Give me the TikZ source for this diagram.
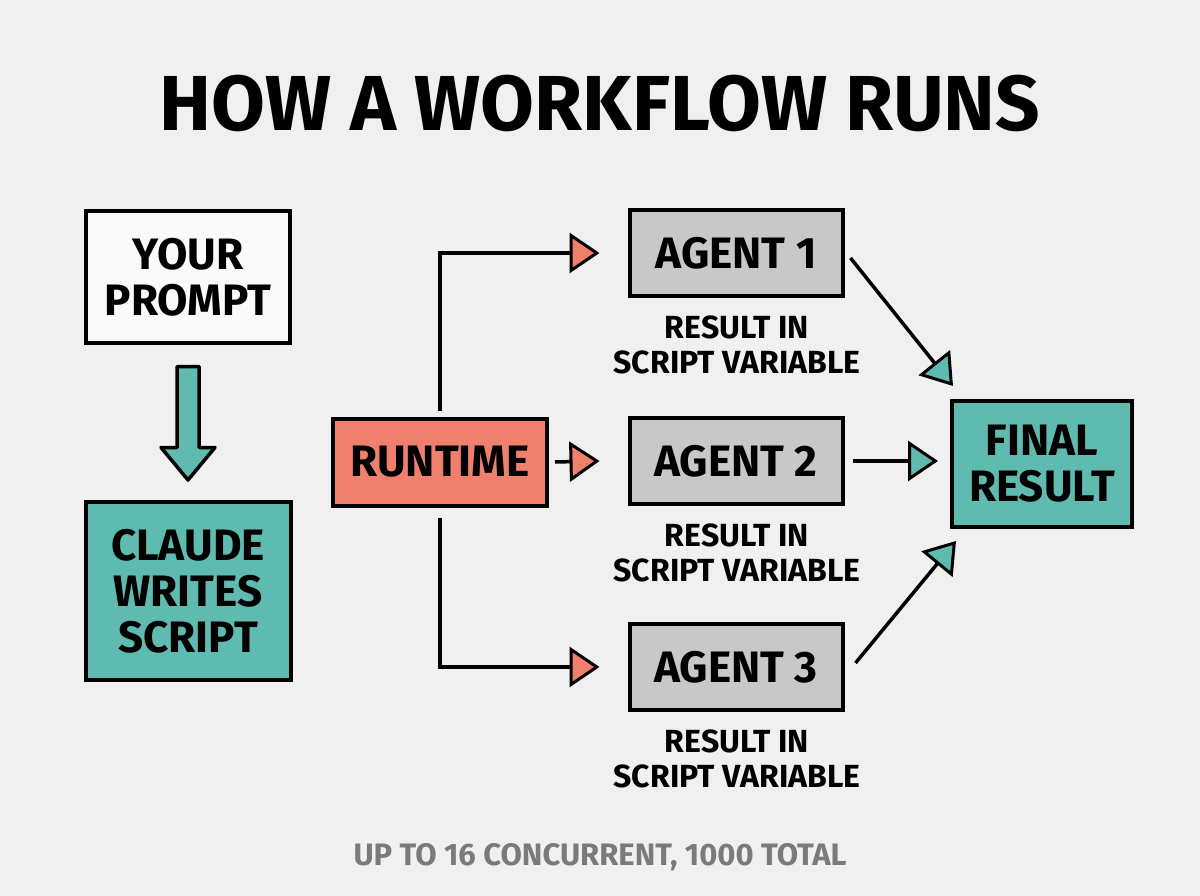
\documentclass[tikz,border=0pt]{standalone}
\usepackage{fontspec}
\setmainfont{Fira Sans}
\usetikzlibrary{arrows.meta,calc}
\definecolor{bg}{RGB}{240,240,240}
\definecolor{teal}{RGB}{95,187,176}
\definecolor{salmon}{RGB}{240,128,110}
\definecolor{agentgray}{RGB}{200,200,200}
\definecolor{boxwhite}{RGB}{250,250,250}
\definecolor{footgray}{RGB}{122,122,122}
\tikzset{
  box/.style={draw=black,line width=4pt,inner sep=0pt,align=center,
    font=\bfseries\fontsize{44}{46}\selectfont},
  agent/.style={box,fill=agentgray,minimum width=213pt,minimum height=86pt},
  note/.style={align=center,font=\bfseries\fontsize{32}{35}\selectfont},
  redarrow/.style={line width=3.5pt,-{Triangle[length=30pt,width=40pt,fill=salmon,line width=3pt]}},
  tealarrow/.style={line width=3.5pt,-{Triangle[length=30pt,width=40pt,fill=teal,line width=3pt]}},
}
\begin{document}
\begin{tikzpicture}[x=1pt,y=-1pt]
\fill[bg] (0,0) rectangle (1200,896);
\useasboundingbox (0,0) rectangle (1200,896);
\node[font=\bfseries\fontsize{78}{80}\selectfont] (title) at (600,103) {HOW A WORKFLOW RUNS};

\node[box,fill=boxwhite,minimum width=204pt,minimum height=131pt] (prompt) at (188,277) {YOUR\\PROMPT};
\node[box,fill=teal,minimum width=205pt,minimum height=178pt] (claude) at (188,591) {CLAUDE\\WRITES\\SCRIPT};
\node[box,fill=salmon,minimum width=214pt,minimum height=87pt] (runtime) at (440,462) {RUNTIME};
\node[agent] (a1) at (736,253) {AGENT 1};
\node[agent] (a2) at (736,461) {AGENT 2};
\node[agent] (a3) at (736,667) {AGENT 3};
\node[note] (n1) at (737,345) {RESULT IN\\SCRIPT VARIABLE};
\node[note] (n2) at (737,553) {RESULT IN\\SCRIPT VARIABLE};
\node[note] (n3) at (737,759) {RESULT IN\\SCRIPT VARIABLE};
\node[box,fill=teal,minimum width=180pt,minimum height=126pt] (final) at (1042,464) {FINAL\\RESULT};
\node[font=\bfseries\fontsize{31}{33}\selectfont,text=footgray] (foot) at (600,857) {UP TO 16 CONCURRENT, 1000 TOTAL};

% block arrow from prompt to claude
\draw[line width=3.5pt,fill=teal,line join=round]
  ($(prompt.south)+(-11,22)$) -- ($(prompt.south)+(11,22)$) -- ($(prompt.south)+(11,103)$)
  -- ($(prompt.south)+(27,103)$) -- ($(claude.north)+(0,-20)$) -- ($(prompt.south)+(-27,103)$)
  -- ($(prompt.south)+(-11,103)$) -- cycle;

% runtime to agents
\draw[redarrow] ($(runtime.north)+(0,-6)$) |- ($(a1.west)+(-28,0)$);
\draw[redarrow] ($(runtime.south)+(0,10)$) |- ($(a3.west)+(-28,0)$);
\draw[redarrow] ($(runtime.east)+(6,0)$) -- ($(a2.west)+(-28,0)$);

% agents to final
\draw[tealarrow] ($(a1.east)+(6,5)$) -- ($(final.north west)+(3,-13)$);
\draw[tealarrow] ($(a2.east)+(8,0)$) -- ($(final.west)+(-12,-3)$);
\draw[tealarrow] ($(a3.east)+(11,-4)$) -- ($(final.south west)+(6,12)$);
\end{tikzpicture}
\end{document}
